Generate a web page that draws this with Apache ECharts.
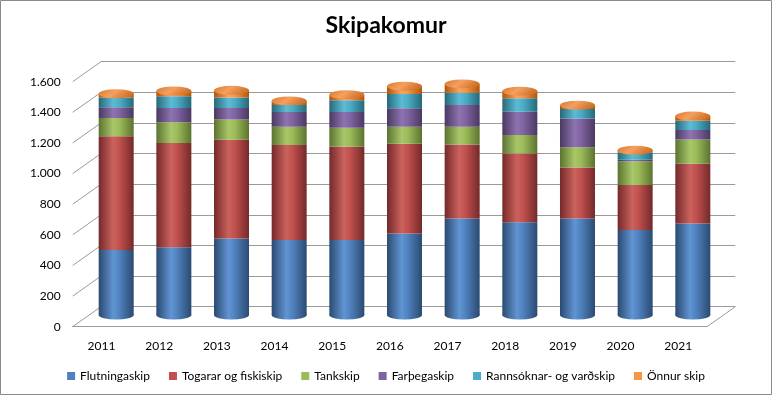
<!DOCTYPE html>
<html>
<head>
<meta charset="utf-8">
<script src="https://cdn.jsdelivr.net/npm/echarts@6/dist/echarts.min.js"></script>
<style>
html,body{margin:0;padding:0;background:#fff;}
#chart{width:772px;height:395px;}
</style>
</head>
<body>
<div id="chart"></div>
<script>
// ---- data ----
const years = ['2011','2012','2013','2014','2015','2016','2017','2018','2019','2020','2021'];
const flutningaskip = [425,442,500,490,490,533,631,605,631,555,598];
const togarar       = [742,681,645,621,609,586,483,449,332,294,390];
const tankskip      = [120,135,131,118,124,111,116,122,132,155,158];
const farthegaskip  = [69,94,76,96,102,121,142,152,189,10,62];
const rannsoknar    = [65,76,69,47,77,93,79,87,62,47,60];
const onnur         = [24,35,46,26,37,50,58,47,24,15,31];
const seriesNames = ['Flutningaskip','Togarar og fiskiskip','Tankskip','Farþegaskip','Rannsóknar- og varðskip','Önnur skip'];
const yMin = 0, yMax = 1600, yStep = 200;

// ---- styling ----
const FONT = 'Lato';
const colors = [
  ['#4F81BD','#2B4A70','#6194D3'],
  ['#C0504D','#74292A','#CB625E'],
  ['#9BBB59','#5C7330','#A8C769'],
  ['#8064A2','#4A3961','#8E73B0'],
  ['#4BACC6','#26697B','#5DBBD4'],
  ['#F79646','#B0560A','#F9A560']
];
function grad(c){
  return new echarts.graphic.LinearGradient(0,0,1,0,[
    {offset:0,color:c[1]},{offset:0.42,color:c[2]},{offset:0.6,color:c[0]},{offset:1,color:c[1]}
  ]);
}
const values = [flutningaskip,togarar,tankskip,farthegaskip,rannsoknar,onnur];
const totals = years.map((_,i)=>values.reduce((s,a)=>s+a[i],0));

// layout: front plane and depth offset of the 3D look
const W = 772, H = 395;
const front = {left:72.7, right:707, top:81.7, bottom:326.7};
const depth = {dx:28.3, dy:-20};
const mid = {dx:depth.dx/2 + 0.5, dy:depth.dy/2 - 1.7};
const BW = 35;

const chart = echarts.init(document.getElementById('chart'));

const barSeries = seriesNames.map((n,k)=>({
  name:n, type:'bar', stack:'s', xAxisIndex:0, yAxisIndex:0,
  barWidth:BW, data:values[k],
  itemStyle:{color:grad(colors[k])},
  emphasis:{disabled:true}
}));

const option = {
  animation:false,
  color: colors.map(c=>c[0]),
  textStyle:{fontFamily:FONT},
  title:{text:'Skipakomur', left:'center', top:9,
    textStyle:{fontFamily:FONT, fontSize:23, fontWeight:'bold', color:'#000'}},
  legend:{
    data:seriesNames.map((n,k)=>({name:n, itemStyle:{color:colors[k][0]}})),
    bottom:8, left:'center', itemWidth:8, itemHeight:8, itemGap:19,
    icon:'rect', textStyle:{fontFamily:FONT, fontSize:12, color:'#000'}
  },
  grid:[
    // bars (mid depth)
    {left:front.left+mid.dx, right:W-front.right-mid.dx, top:front.top+mid.dy, bottom:H-front.bottom-mid.dy},
    // back wall
    {left:front.left+depth.dx, right:W-front.right-depth.dx, top:front.top+depth.dy, bottom:H-front.bottom-depth.dy},
    // front plane (labels)
    {left:front.left, right:W-front.right, top:front.top, bottom:H-front.bottom}
  ],
  xAxis:[
    {type:'category', data:years, gridIndex:0, show:false},
    {type:'category', data:years, gridIndex:1, show:false},
    {type:'category', data:years, gridIndex:2,
      axisLine:{show:true, lineStyle:{color:'#9A9A9A'}}, axisTick:{show:false},
      axisLabel:{color:'#000', fontSize:12, fontFamily:FONT, margin:13}}
  ],
  yAxis:[
    {type:'value', gridIndex:0, min:yMin, max:yMax, interval:yStep, show:false},
    {type:'value', gridIndex:1, min:yMin, max:yMax, interval:yStep,
      axisLine:{show:false}, axisTick:{show:false}, axisLabel:{show:false},
      splitLine:{lineStyle:{color:'#9A9A9A'}}},
    {type:'value', gridIndex:2, min:yMin, max:yMax, interval:yStep,
      axisLine:{show:false}, axisTick:{show:false}, splitLine:{show:false},
      axisLabel:{color:'#000', fontSize:12, fontFamily:FONT, margin:12,
        formatter:v=>v.toString().replace(/\B(?=(\d{3})+(?!\d))/g,'.')}}
  ],
  series:[
    {type:'pictorialBar', xAxisIndex:0, yAxisIndex:0, symbol:'circle',
      symbolSize:[BW,9], symbolPosition:'start', symbolOffset:[0,'50%'],
      data:flutningaskip, itemStyle:{color:grad(colors[0])}, z:1, silent:true},
    ...barSeries,
    {type:'pictorialBar', xAxisIndex:0, yAxisIndex:0, symbol:'circle',
      symbolSize:[BW,9], symbolPosition:'end', symbolOffset:[0,'-50%'],
      data:totals, z:3, silent:true,
      itemStyle:{color:new echarts.graphic.LinearGradient(0,0,1,0.3,[
        {offset:0,color:'#D97A2E'},{offset:0.5,color:'#F5A060'},{offset:1,color:'#D0722A'}])}}
  ]
};
chart.setOption(option);

// 3D wall/floor edges drawn from the axis scales
const ticks = [];
for(let v=yMin; v<=yMax; v+=yStep) ticks.push(v);
const g = [{type:'rect', shape:{x:0.5,y:0.5,width:W-1,height:H-1},
  style:{fill:null, stroke:'#8A8A8A', lineWidth:1}, silent:true}];
ticks.forEach(v=>{
  const yf = chart.convertToPixel({yAxisIndex:2}, v);
  const yb = chart.convertToPixel({yAxisIndex:1}, v);
  g.push({type:'line', shape:{x1:front.left, y1:yf, x2:front.left+depth.dx, y2:yb},
    style:{stroke:'#9A9A9A', lineWidth:1}, silent:true});
});
const y0f = chart.convertToPixel({yAxisIndex:2}, yMin);
const y0b = chart.convertToPixel({yAxisIndex:1}, yMin);
g.push({type:'line', shape:{x1:front.right, y1:y0f, x2:front.right+depth.dx, y2:y0b},
  style:{stroke:'#9A9A9A', lineWidth:1}, silent:true});
chart.setOption({graphic:g});
</script>
</body>
</html>
